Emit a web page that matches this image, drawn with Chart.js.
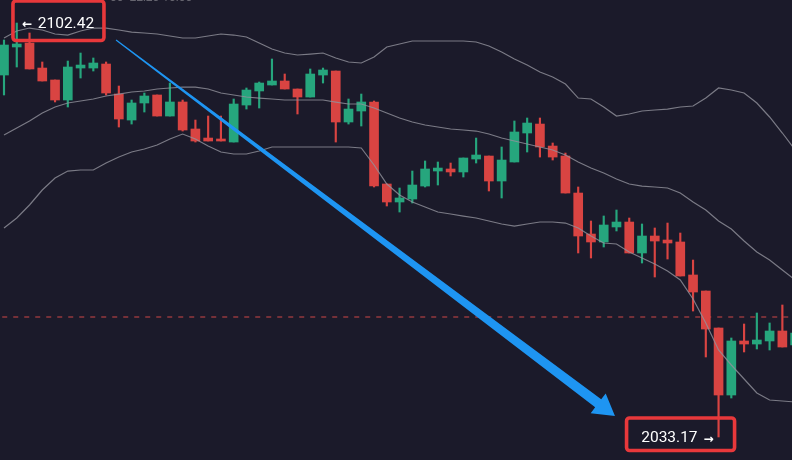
<!DOCTYPE html>
<html><head><meta charset="utf-8">
<script src="https://cdn.jsdelivr.net/npm/chart.js@4.4.1/dist/chart.umd.min.js"></script>
<style>html,body{margin:0;padding:0;background:#1b1a2a;overflow:hidden}canvas{display:block}</style>
</head><body>
<canvas id="c" width="792" height="460"></canvas>
<script>
const openP=[2093.72,2098.41,2099.07,2094.89,2092.89,2089.54,2094.89,2094.89,2095.56,2090.54,2086.19,2089.04,2090.38,2086.86,2089.21,2084.69,2083.18,2083.02,2082.51,2088.70,2091.05,2092.05,2092.72,2091.38,2090.04,2093.72,2094.39,2085.86,2087.70,2089.21,2075.49,2072.48,2072.98,2075.15,2077.66,2078.00,2077.50,2079.67,2080.17,2075.99,2079.17,2084.02,2085.52,2081.84,2080.17,2073.98,2067.12,2065.79,2068.30,2069.13,2063.95,2066.79,2066.12,2065.79,2060.27,2057.59,2051.40,2040.19,2049.23,2048.72,2049.23,2050.90,2048.56];
const highP=[2099.58,2102.42,2100.75,2095.90,2092.89,2096.06,2097.40,2096.57,2095.90,2091.88,2089.54,2090.71,2090.38,2092.38,2089.54,2086.19,2086.86,2086.86,2089.71,2091.55,2092.55,2096.40,2093.89,2091.38,2094.73,2094.89,2094.39,2089.71,2090.54,2089.37,2075.49,2074.82,2077.66,2079.34,2079.17,2079.00,2079.84,2083.18,2080.17,2081.68,2086.03,2086.53,2086.53,2082.35,2080.67,2074.99,2069.30,2070.14,2071.14,2069.80,2068.80,2068.13,2068.96,2067.29,2062.77,2057.59,2051.40,2049.73,2052.07,2053.91,2052.24,2055.25,2052.74];
const lowP=[2090.38,2095.06,2094.73,2092.72,2089.21,2088.37,2093.22,2094.39,2090.38,2085.02,2085.52,2087.53,2086.86,2086.86,2084.35,2082.51,2082.68,2082.68,2082.51,2088.03,2088.20,2092.05,2091.38,2087.20,2090.04,2092.38,2082.51,2085.52,2085.19,2074.99,2071.81,2070.80,2072.31,2074.99,2075.32,2076.83,2076.66,2079.00,2074.32,2073.15,2079.17,2080.84,2080.00,2079.50,2073.98,2063.95,2063.11,2064.95,2067.63,2063.95,2062.27,2059.93,2062.94,2060.10,2054.24,2046.55,2033.17,2039.69,2047.39,2047.89,2047.72,2048.22,2047.72];
const closeP=[2098.74,2098.91,2094.73,2092.72,2089.54,2095.06,2095.39,2095.73,2090.71,2086.36,2089.04,2090.21,2086.86,2089.21,2084.52,2082.68,2082.68,2082.68,2088.87,2091.21,2092.38,2092.72,2091.38,2090.04,2093.89,2094.56,2085.86,2088.03,2089.21,2075.15,2072.48,2073.15,2075.32,2078.00,2078.16,2077.50,2079.84,2080.34,2075.99,2079.50,2084.19,2085.69,2081.68,2080.00,2073.98,2066.79,2065.79,2068.63,2069.13,2063.95,2066.79,2065.95,2065.62,2060.10,2057.42,2051.23,2040.19,2049.23,2048.72,2049.39,2050.90,2048.22,2050.56];
const upperBand=[2099.91,2101.08,2101.58,2101.25,2100.58,2100.41,2101.08,2101.58,2101.58,2101.25,2100.91,2100.75,2100.58,2100.25,2099.91,2099.91,2100.25,2100.58,2100.41,2100.08,2099.07,2098.07,2097.40,2097.07,2097.23,2097.40,2096.57,2095.90,2095.73,2096.73,2098.41,2098.91,2099.41,2099.41,2099.41,2099.41,2099.41,2099.24,2098.57,2097.57,2096.40,2095.39,2094.22,2093.39,2092.22,2089.87,2089.71,2088.37,2086.86,2087.20,2087.70,2087.87,2088.03,2088.37,2088.54,2089.87,2091.55,2091.21,2090.71,2089.04,2086.70,2084.02,2081.18];
const middleBand=[2083.68,2084.86,2086.03,2087.36,2088.37,2089.04,2089.37,2089.71,2090.21,2090.54,2090.88,2091.05,2091.38,2091.55,2091.71,2091.71,2091.38,2090.71,2090.38,2090.04,2089.87,2089.71,2089.54,2089.54,2089.54,2089.54,2089.20,2088.87,2088.87,2088.20,2087.36,2086.53,2085.86,2085.36,2085.02,2084.69,2084.52,2084.35,2083.85,2083.18,2082.68,2082.18,2081.68,2081.18,2080.34,2079.17,2078.16,2077.33,2076.32,2075.49,2075.15,2074.99,2074.82,2073.98,2072.48,2071.14,2069.30,2067.96,2065.95,2064.11,2062.77,2061.10,2059.43];
const lowerBand=[2068.13,2069.80,2071.98,2074.48,2076.49,2077.66,2077.83,2077.83,2079.00,2080.00,2080.84,2081.34,2082.01,2083.02,2083.85,2083.02,2081.84,2080.84,2080.51,2080.51,2081.01,2081.68,2081.68,2081.68,2081.68,2081.68,2081.68,2081.68,2081.51,2078.67,2075.49,2073.65,2072.48,2071.64,2070.80,2070.47,2070.13,2069.80,2069.30,2068.80,2068.46,2068.80,2069.13,2069.13,2068.96,2068.13,2066.79,2065.62,2065.45,2064.11,2063.11,2062.11,2060.93,2059.43,2056.25,2052.24,2047.72,2045.21,2042.87,2040.53,2039.36,2039.19,2039.02];
const candleIndex=openP.map((_,i)=>i);
const dashedLevel=2053.24;
const highLabelIdx=1;   // candle carrying the marked high
const lowLabelIdx=56;   // candle carrying the marked low
const arrowStart={i:8.78,p:2099.58};
const arrowEnd={i:47.88,p:2036.68};
const topCaption='00  22:20 10:00';

const UP='#26a67d', DOWN='#d94442';
const colors=candleIndex.map(i=>closeP[i]>=openP[i]?UP:DOWN);
const BAND='rgba(146,146,156,0.8)';
const line=(arr)=>candleIndex.map(i=>({x:i,y:arr[i]}));

const bgPlugin={id:'bg',beforeDraw(c){const x=c.ctx;x.save();x.fillStyle='#1b1a2a';x.fillRect(0,0,c.width,c.height);x.restore();}};
const annoPlugin={id:'anno',afterDraw(c){
  const ctx=c.ctx, xs=c.scales.x, ys=c.scales.y;
  ctx.save();
  // faint clipped caption at top
  ctx.fillStyle='#66656f';ctx.font='12px Roboto';ctx.textAlign='left';ctx.textBaseline='alphabetic';
  ctx.fillText(topCaption,110,1);
  // arrow
  const x0=xs.getPixelForValue(arrowStart.i), y0=ys.getPixelForValue(arrowStart.p);
  const x1=xs.getPixelForValue(arrowEnd.i), y1=ys.getPixelForValue(arrowEnd.p);
  const dx=x1-x0, dy=y1-y0, L=Math.hypot(dx,dy), ux=dx/L, uy=dy/L, nx=-uy, ny=ux;
  const hl=21, hw=12.5, w0=0.6, w1=5;
  const bx=x1-ux*hl, by=y1-uy*hl;
  ctx.fillStyle='#1e95f2';
  ctx.beginPath();
  ctx.moveTo(x0+nx*w0,y0+ny*w0);
  ctx.lineTo(bx+nx*w1,by+ny*w1);
  ctx.lineTo(bx+nx*hw,by+ny*hw);
  ctx.lineTo(x1,y1);
  ctx.lineTo(bx-nx*hw,by-ny*hw);
  ctx.lineTo(bx-nx*w1,by-ny*w1);
  ctx.lineTo(x0-nx*w0,y0-ny*w0);
  ctx.closePath();ctx.fill();
  // boxes
  const rr=(x,y,w,h,r)=>{ctx.beginPath();ctx.roundRect(x,y,w,h,r);ctx.stroke();};
  ctx.strokeStyle='#e8383b';ctx.lineWidth=3.6;
  const ax=xs.getPixelForValue(highLabelIdx), ay=ys.getPixelForValue(highP[highLabelIdx]);
  rr(ax-3.8,ay-22,91,39.5,3);
  const bx2=xs.getPixelForValue(lowLabelIdx), by2=ys.getPixelForValue(lowP[lowLabelIdx]);
  rr(bx2-92,by2-19,108,32.5,3);
  ctx.fillStyle='#ffffff';ctx.textBaseline='alphabetic';
  ctx.font='bold 12px "DejaVu Sans"';ctx.textAlign='left';
  ctx.fillText('←',ax+5.5,ay+5);
  ctx.font='15.5px Roboto';
  ctx.fillText(highP[highLabelIdx].toFixed(2),ax+21,ay+4.5);
  ctx.textAlign='right';
  ctx.fillText(lowP[lowLabelIdx].toFixed(2),bx2-21,by2+5);
  ctx.font='bold 12px "DejaVu Sans"';ctx.textAlign='left';
  ctx.fillText('→',bx2-15,by2+6.5);
  ctx.restore();
}};

new Chart(document.getElementById('c'),{
  type:'bar',
  data:{datasets:[
    {type:'line',data:line(upperBand),borderColor:BAND,borderWidth:1.2,pointRadius:0,tension:0,order:1},
    {type:'line',data:line(middleBand),borderColor:BAND,borderWidth:1.2,pointRadius:0,tension:0,order:1},
    {type:'line',data:line(lowerBand),borderColor:BAND,borderWidth:1.2,pointRadius:0,tension:0,order:1},
    {type:'bar',data:candleIndex.map(i=>({x:i,y:[openP[i],closeP[i]]})),backgroundColor:colors,barThickness:9,grouped:false,borderWidth:0,order:2},
    {type:'bar',data:candleIndex.map(i=>({x:i,y:[lowP[i],highP[i]]})),backgroundColor:colors,barThickness:1.5,grouped:false,borderWidth:0,order:3},
    {type:'line',data:[{x:-1,y:dashedLevel},{x:63,y:dashedLevel}],borderColor:'#cf4747',borderWidth:1.2,borderDash:[5,6],pointRadius:0,order:4}
  ]},
  options:{
    responsive:false,animation:false,
    layout:{padding:0},
    plugins:{legend:{display:false},tooltip:{enabled:false}},
    scales:{
      x:{type:'linear',min:-0.3135,max:61.755,offset:false,display:false},
      y:{type:'linear',min:2029.32,max:2106.27,display:false}
    }
  },
  plugins:[bgPlugin,annoPlugin]
});
</script>
</body></html>
